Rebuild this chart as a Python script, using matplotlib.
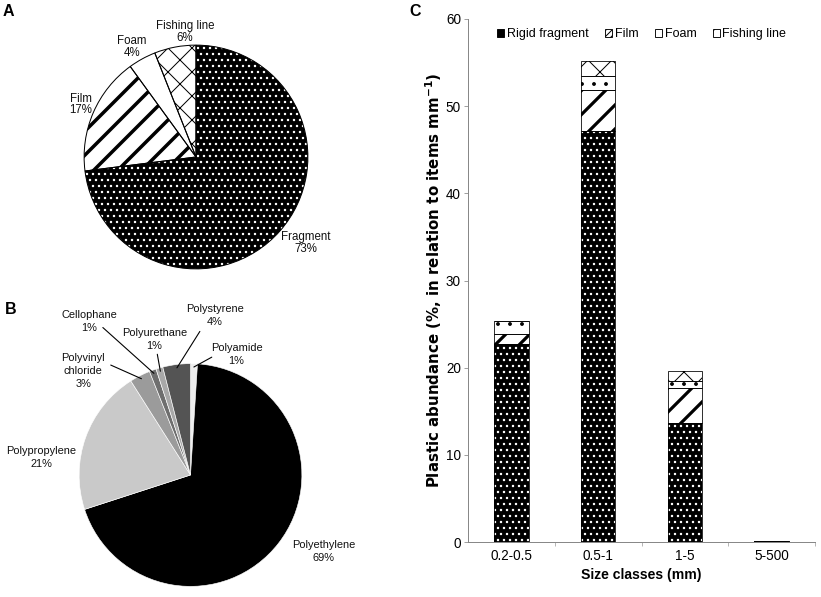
import matplotlib
matplotlib.use("Agg")
import matplotlib.pyplot as plt
from matplotlib.patches import Patch
import numpy as np

# ---------------- data ----------------
typeA_labels = ["Fragment", "Film", "Foam", "Fishing line"]
typeA_values = [73, 17, 4, 6]

polyB_labels = ["Polyamide", "Polyethylene", "Polypropylene", "Polyvinyl\nchloride",
                "Cellophane", "Polyurethane", "Polystyrene"]
polyB_values = [1, 69, 21, 3, 1, 1, 4]
polyB_colors = ["#eeeeee", "#000000", "#c9c9c9", "#9b9b9b", "#6e6e6e", "#a8a8a8", "#545454"]

size_classes = ["0.2-0.5", "0.5-1", "1-5", "5-500"]
rigid_fragment = [22.7, 47.2, 13.7, 0.15]
film = [1.2, 4.7, 4.0, 0.0]
foam = [1.4, 1.6, 0.8, 0.0]
fishing_line = [0.0, 1.7, 1.1, 0.0]

# ---------------- setup ----------------
DPI = 72
plt.rcParams['font.family'] = ['Liberation Sans', 'DejaVu Sans']
plt.rcParams['mathtext.fontset'] = 'custom'
plt.rcParams['mathtext.rm'] = 'DejaVu Sans'
plt.rcParams['mathtext.bf'] = 'DejaVu Sans:bold'
plt.rcParams['hatch.linewidth'] = 1.0

W, H = 821, 597
fig = plt.figure(figsize=(W / DPI, H / DPI), dpi=DPI)


def set_hlw(p, lw):
    try:
        p.set_hatch_linewidth(lw)
    except AttributeError:
        pass


def px_axes(cx, cy, r):
    return fig.add_axes([(cx - r) / W, (H - cy - r) / H, 2 * r / W, 2 * r / H])


# ---------------- Panel A ----------------
axA = px_axes(196, 157, 113)
styleA = [dict(fc="black", hatch_ec="white", hatch="..", hlw=1.2),
          dict(fc="white", hatch_ec="black", hatch="/", hlw=3.5),
          dict(fc="white", hatch_ec="white", hatch=None, hlw=1.0),
          dict(fc="white", hatch_ec="black", hatch="x", hlw=1.0)]
wedgesA, _ = axA.pie(typeA_values, startangle=90, counterclock=False, radius=1)
for w, st in zip(wedgesA, styleA):
    w.set_facecolor(st["fc"])
    w.set_edgecolor(st["hatch_ec"])
    if st["hatch"]:
        w.set_hatch(st["hatch"])
    set_hlw(w, st["hlw"])
    w.set_linewidth(0)
axA.pie(typeA_values, startangle=90, counterclock=False, radius=1,
        wedgeprops=dict(fill=False, edgecolor="black", linewidth=1.0))
axA.set_xlim(-1.01, 1.01)
axA.set_ylim(-1.01, 1.01)
axA.set_aspect('auto')
axA.axis('off')
posA = [(0.982, -0.770), (-1.027, 0.469), (-0.575, 0.982), (-0.097, 1.115)]
for lab, v, (x, y) in zip(typeA_labels, typeA_values, posA):
    axA.text(x, y, f"{lab}\n{v}%", ha="center", va="center", fontsize=11.5,
             linespacing=0.95, color="#111111")

# ---------------- Panel B ----------------
axB = px_axes(190.5, 475, 112.5)
wedgesB, _ = axB.pie(polyB_values, colors=polyB_colors, startangle=90, counterclock=False,
                     radius=1, wedgeprops=dict(edgecolor="white", linewidth=0.6))
axB.set_xlim(-1.01, 1.01)
axB.set_ylim(-1.01, 1.01)
axB.set_aspect('auto')
axB.axis('off')
posB = {"Polyamide": (0.413, 1.084), "Polyethylene": (1.196, -0.684),
        "Polypropylene": (-1.338, 0.160), "Polyvinyl\nchloride": (-0.964, 0.933),
        "Cellophane": (-0.911, 1.378), "Polyurethane": (-0.324, 1.218),
        "Polystyrene": (0.218, 1.431)}
leadB = {"Polyamide": (0.191, 1.058), "Polyvinyl\nchloride": (-0.716, 0.987),
         "Cellophane": (-0.787, 1.324), "Polyurethane": (-0.298, 1.084),
         "Polystyrene": (0.084, 1.289)}
for w, lab, v in zip(wedgesB, polyB_labels, polyB_values):
    x, y = posB[lab]
    axB.text(x, y, f"{lab}\n{v}%", ha="center", va="center", fontsize=11,
             linespacing=1.4, color="#111111")
    if lab in leadB:
        ang = np.deg2rad((w.theta1 + w.theta2) / 2)
        r = 0.97
        axB.annotate("", xy=(r * np.cos(ang), r * np.sin(ang)), xytext=leadB[lab],
                     arrowprops=dict(arrowstyle="-", color="black", lw=1.1,
                                     shrinkA=0, shrinkB=0), annotation_clip=False)

# ---------------- Panel C ----------------
axC = fig.add_axes([468 / W, (H - 542) / H, 347 / W, 523 / H])
x = np.arange(len(size_classes))
bw = 0.40
series = [("Rigid fragment", rigid_fragment, dict(fc="black", ec="white", hatch="..", hlw=1.2)),
          ("Film", film, dict(fc="white", ec="black", hatch="/", hlw=3.2)),
          ("Foam", foam, dict(fc="white", ec="black", hatch=".", hlw=1.4)),
          ("Fishing line", fishing_line, dict(fc="white", ec="black", hatch="x", hlw=1.0))]
legend_style = [dict(fc="black", hatch=None, hlw=1.0),
                dict(fc="white", hatch="////", hlw=2.0),
                dict(fc="white", hatch=None, hlw=1.0),
                dict(fc="white", hatch="x", hlw=0.8)]
bottom = np.zeros(len(x))
handles = []
for (name, vals, st), ls in zip(series, legend_style):
    vals = np.array(vals)
    bars = axC.bar(x, vals, bw, bottom=bottom, color=st["fc"], edgecolor=st["ec"],
                   hatch=st["hatch"], linewidth=0)
    for b in bars:
        set_hlw(b, st["hlw"])
    axC.bar(x, vals, bw, bottom=bottom, fill=False, edgecolor="black", linewidth=0.8)
    bottom += vals
    hp = Patch(facecolor=ls["fc"], edgecolor="black", hatch=ls["hatch"], linewidth=0.9)
    set_hlw(hp, ls["hlw"])
    handles.append(hp)

axC.set_xlim(-0.5, 3.5)
axC.set_ylim(0, 60)
axC.set_yticks(range(0, 61, 10))
axC.set_xticks(x)
axC.set_xticklabels(size_classes)
axC.set_xticks(np.arange(0.5, 3.6, 1), minor=True)
axC.tick_params(axis='x', which='major', length=0, labelsize=13.5, pad=7)
axC.tick_params(axis='x', which='minor', length=4, color="#888888", direction='out')
axC.tick_params(axis='y', length=4, color="#888888", labelsize=13.5, pad=3)
for s in ["top", "right"]:
    axC.spines[s].set_visible(False)
for s in ["left", "bottom"]:
    axC.spines[s].set_color("#888888")
    axC.spines[s].set_linewidth(1.0)
axC.set_xlabel("Size classes (mm)", fontsize=14, fontweight="bold", labelpad=5)
axC.set_ylabel(r"Plastic abundance (%, in relation to items mm$^{\mathbf{-1}}$)",
               fontsize=15, fontweight="bold", labelpad=2, family="DejaVu Sans")
axC.legend(handles, [s[0] for s in series], loc="center", bbox_to_anchor=(0.5, 0.971),
           ncol=4, frameon=False, fontsize=12.5, handlelength=0.6, handleheight=0.6,
           handletextpad=0.2, columnspacing=1.3, borderaxespad=0)

# ---------------- panel letters ----------------
fig.text(3 / W, 1 - 12 / H, "A", fontsize=16, fontweight="bold", va="center", ha="left")
fig.text(5 / W, 1 - 310 / H, "B", fontsize=16, fontweight="bold", va="center", ha="left")
fig.text(409 / W, 1 - 12 / H, "C", fontsize=16, fontweight="bold", va="center", ha="left")

fig.savefig("out.png", dpi=DPI)
